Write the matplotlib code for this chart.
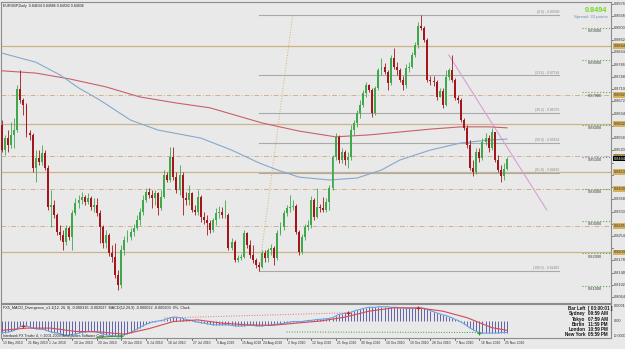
import numpy as np
import matplotlib
matplotlib.use("Agg")
import matplotlib.pyplot as plt
from matplotlib.transforms import blended_transform_factory

plt.rcParams["font.family"] = ["Liberation Sans", "DejaVu Sans"]

BG = "#e9e9e9"
GREEN = "#3fa84a"
RED = "#a3161b"
TAN = "#cdb387"

# EURGBP daily bars, 13 May - 22 Nov 2010 (open of each bar = previous close)
first_open = 0.8599
close = [
    0.8521, 0.8558, 0.8537, 0.8568, 0.8583, 0.8711, 0.8676, 0.8661, 0.8574, 0.8568,
    0.8465, 0.8496, 0.8484, 0.8512, 0.8465, 0.8344, 0.8350, 0.8319, 0.8267, 0.8257,
    0.8235, 0.8279, 0.8251, 0.8326, 0.8357, 0.8366, 0.8375, 0.8360, 0.8372, 0.8344,
    0.8350, 0.8326, 0.8282, 0.8232, 0.8257, 0.8201, 0.8189, 0.8133, 0.8102, 0.8211,
    0.8242, 0.8251, 0.8267, 0.8279, 0.8304, 0.8329, 0.8366, 0.8391, 0.8381, 0.8372,
    0.8388, 0.8341, 0.8375, 0.8444, 0.8428, 0.8499, 0.8437, 0.8397, 0.8444, 0.8372,
    0.8366, 0.8388, 0.8335, 0.8329, 0.8375, 0.8313, 0.8304, 0.8294, 0.8273, 0.8304,
    0.8326, 0.8329, 0.8319, 0.8319, 0.8217, 0.8235, 0.8180, 0.8186, 0.8189, 0.8263,
    0.8226, 0.8195, 0.8180, 0.8164, 0.8158, 0.8201, 0.8186, 0.8211, 0.8217, 0.8186,
    0.8263, 0.8282, 0.8326, 0.8341, 0.8344, 0.8347, 0.8267, 0.8204, 0.8251, 0.8282,
    0.8288, 0.8366, 0.8313, 0.8344, 0.8341, 0.8335, 0.8360, 0.8403, 0.8499, 0.8562,
    0.8490, 0.8515, 0.8490, 0.8499, 0.8583, 0.8605, 0.8636, 0.8661, 0.8698, 0.8723,
    0.8707, 0.8636, 0.8714, 0.8770, 0.8779, 0.8763, 0.8729, 0.8807, 0.8779, 0.8770,
    0.8739, 0.8723, 0.8776, 0.8779, 0.8816, 0.8847, 0.8906, 0.8900, 0.8863, 0.8739,
    0.8735, 0.8732, 0.8686, 0.8704, 0.8661, 0.8748, 0.8770, 0.8739, 0.8683, 0.8676,
    0.8614, 0.8590, 0.8537, 0.8465, 0.8453, 0.8515, 0.8496, 0.8546, 0.8558, 0.8527,
    0.8577, 0.8490, 0.8459, 0.8440, 0.84634, 0.84936,
]
high = [
    0.8614, 0.8568, 0.8583, 0.8608, 0.8621, 0.8723, 0.8770, 0.8683, 0.8667, 0.8583,
    0.8574, 0.8521, 0.8521, 0.8537, 0.8521, 0.8475, 0.8397, 0.8366, 0.8326, 0.8288,
    0.8273, 0.8288, 0.8285, 0.8335, 0.8372, 0.8381, 0.8391, 0.8381, 0.8388, 0.8378,
    0.8372, 0.8372, 0.8335, 0.8288, 0.8273, 0.8263, 0.8226, 0.8232, 0.8149, 0.8226,
    0.8254, 0.8273, 0.8279, 0.8291, 0.8319, 0.8341, 0.8381, 0.8403, 0.8403, 0.8397,
    0.8397, 0.8391, 0.8397, 0.8459, 0.8453, 0.8530, 0.8530, 0.8453, 0.8475, 0.8453,
    0.8391, 0.8412, 0.8391, 0.8350, 0.8397, 0.8381, 0.8329, 0.8319, 0.8304, 0.8310,
    0.8341, 0.8347, 0.8344, 0.8366, 0.8326, 0.8248, 0.8242, 0.8195, 0.8198, 0.8273,
    0.8267, 0.8242, 0.8226, 0.8186, 0.8173, 0.8211, 0.8211, 0.8217, 0.8229, 0.8223,
    0.8273, 0.8298, 0.8335, 0.8350, 0.8381, 0.8366, 0.8353, 0.8273, 0.8260, 0.8291,
    0.8304, 0.8378, 0.8372, 0.8403, 0.8353, 0.8375, 0.8372, 0.8412, 0.8506, 0.8574,
    0.8568, 0.8527, 0.8521, 0.8515, 0.8599, 0.8614, 0.8645, 0.8676, 0.8707, 0.8732,
    0.8726, 0.8714, 0.8720, 0.8776, 0.8807, 0.8791, 0.8770, 0.8816, 0.8838, 0.8794,
    0.8776, 0.8751, 0.8788, 0.8794, 0.8826, 0.8857, 0.8919, 0.89399, 0.8906, 0.8869,
    0.8751, 0.8751, 0.8739, 0.8714, 0.8714, 0.8770, 0.8776, 0.8816, 0.8745, 0.8692,
    0.8683, 0.8621, 0.8599, 0.8552, 0.8490, 0.8527, 0.8527, 0.8558, 0.8574, 0.8568,
    0.8590, 0.8577, 0.8506, 0.8475, 0.8481, 0.84986,
]
low = [
    0.8515, 0.8506, 0.8515, 0.8527, 0.8527, 0.8577, 0.8667, 0.8630, 0.8562, 0.8552,
    0.8453, 0.8422, 0.8475, 0.8475, 0.8459, 0.8335, 0.8282, 0.8310, 0.8257, 0.8242,
    0.8211, 0.8226, 0.8242, 0.8211, 0.8319, 0.8341, 0.8353, 0.8350, 0.8353, 0.8335,
    0.8329, 0.8316, 0.8232, 0.8217, 0.8217, 0.8192, 0.8173, 0.8124, 0.8086, 0.8093,
    0.8195, 0.8235, 0.8242, 0.8254, 0.8273, 0.8288, 0.8319, 0.8360, 0.8372, 0.8341,
    0.8350, 0.8319, 0.8335, 0.8372, 0.8422, 0.8422, 0.8428, 0.8388, 0.8381, 0.8319,
    0.8350, 0.8350, 0.8329, 0.8319, 0.8319, 0.8298, 0.8291, 0.8257, 0.8263, 0.8267,
    0.8288, 0.8310, 0.8310, 0.8310, 0.8211, 0.8211, 0.8173, 0.8173, 0.8180, 0.8186,
    0.8217, 0.8186, 0.8170, 0.8155, 0.81469, 0.8155, 0.8173, 0.8173, 0.8195, 0.8164,
    0.8180, 0.8257, 0.8273, 0.8316, 0.8329, 0.8335, 0.8260, 0.8195, 0.8198, 0.8242,
    0.8273, 0.8279, 0.8304, 0.8310, 0.8329, 0.8329, 0.8329, 0.8335, 0.8397, 0.8490,
    0.8481, 0.8481, 0.8475, 0.8465, 0.8490, 0.8568, 0.8593, 0.8621, 0.8655, 0.8686,
    0.8701, 0.8624, 0.8630, 0.8707, 0.8754, 0.8757, 0.8707, 0.8723, 0.8773, 0.8754,
    0.8732, 0.8707, 0.8714, 0.8763, 0.8776, 0.8810, 0.8838, 0.8894, 0.8857, 0.8732,
    0.8723, 0.8720, 0.8676, 0.8686, 0.8652, 0.8658, 0.8739, 0.8732, 0.8676, 0.8667,
    0.8608, 0.8583, 0.8527, 0.8459, 0.8440, 0.8447, 0.8484, 0.8490, 0.8537, 0.8515,
    0.8521, 0.8484, 0.8453, 0.8422, 0.8428, 0.84592,
]

# moving averages read at a few bars
ma_red_bar = [0, 11, 22, 34, 45, 57, 68, 85, 97, 109, 120, 130, 140, 150, 159, 165]
ma_red = [0.8767, 0.8760, 0.8742, 0.8717, 0.8686, 0.8667, 0.8652, 0.8605, 0.8580,
          0.8562, 0.8568, 0.8577, 0.8586, 0.8593, 0.8593, 0.8590]
ma_blue_bar = [0, 7, 11, 19, 25, 32, 42, 51, 65, 75, 84, 90, 97, 107, 116, 124,
               130, 140, 150, 159, 165]
ma_blue = [0.8822, 0.8804, 0.8794, 0.8754, 0.8714, 0.8676, 0.8614, 0.8583, 0.8558,
           0.8521, 0.8481, 0.8459, 0.8437, 0.8428, 0.8434, 0.8459, 0.8490, 0.8521,
           0.8543, 0.8552, 0.8555]

# drawn objects
solid_levels = [0.8844, 0.8602, 0.8453, 0.8204]
dashdot_levels = [0.8692, 0.8502, 0.8400, 0.8285]
round_levels = [0.89, 0.88, 0.87, 0.86, 0.85, 0.84, 0.83, 0.82, 0.81]
fib_bars = [84, 95]
fib_prices = [0.81469, 0.89399]
fib_ratios = [0.0, 23.6, 38.2, 50.0, 61.8, 100.0]
fib_end = 182
trend_bars = [146, 178]
trend_prices = [0.8816, 0.8335]

axis_ticks = [0.8976, 0.8938, 0.8900, 0.8862, 0.8824, 0.8786, 0.8748, 0.8710,
              0.8672, 0.8634, 0.8596, 0.8558, 0.8520, 0.8482, 0.8444, 0.8406,
              0.8368, 0.8330, 0.8292, 0.8254, 0.8216, 0.8178, 0.8140, 0.8102,
              0.8064]

# MACD main per bar, in units of 1e-4
macd_e4 = [
    -21, -21, -20, -19, -17, -14, -10, -9, -9, -11,
    -13, -14, -15, -15, -16, -18, -20, -21, -22, -23,
    -25, -26, -26, -25, -24, -22, -21, -20, -19, -19,
    -19, -20, -22, -24, -25, -26, -27, -28, -29, -27,
    -25, -23, -21, -18, -15, -12, -9, -6, -4, -2,
    -1, 0, 1, 2, 4, 6, 7, 7, 6, 5,
    3, 2, 1, -1, -2, -3, -4, -5, -6, -7,
    -7, -7, -7, -7, -7, -8, -9, -9, -9, -9,
    -8, -8, -8, -9, -9, -9, -8, -8, -7, -6,
    -6, -5, -4, -3, -2, -1, -1, -1, -1, 0,
    1, 1, 2, 3, 3, 4, 4, 5, 6, 9,
    12, 13, 14, 15, 16, 18, 20, 21, 23, 24,
    25, 25, 25, 26, 26, 26, 26, 25, 25, 25,
    24, 24, 23, 23, 23, 23, 24, 24, 23, 21,
    19, 17, 15, 13, 11, 10, 8, 6, 3, 1,
    -2, -5, -9, -13, -16, -19, -21, -22, -22, -22,
    -22, -22, -22, -21, -21, -21,
]
signal_bar = [0, 8, 16, 24, 32, 40, 48, 56, 64, 72, 80, 88, 96, 104, 112, 120,
              128, 136, 144, 152, 160, 165]
signal_e4 = [-17, -13, -13, -19, -20, -24, -14, -1, 2, -4, -7, -8, -4, 0, 7, 18,
             24, 24, 18, 6, -12, -17]
sell_bar = [7, 113, 136]
buy_bar = [39, 156]

date_bars = [0, 8, 15, 23, 31, 39, 47, 54, 62, 70, 78, 85, 93, 101, 109, 117,
             125, 133, 140, 148, 156, 164]
date_labels = ["13 May 2010", "21 May 2010", "1 Jun 2010", "10 Jun 2010",
               "20 Jun 2010", "29 Jun 2010", "8 Jul 2010", "18 Jul 2010",
               "27 Jul 2010", "5 Aug 2010", "15 Aug 2010", "24 Aug 2010",
               "2 Sep 2010", "12 Sep 2010", "21 Sep 2010", "30 Sep 2010",
               "10 Oct 2010", "19 Oct 2010", "28 Oct 2010", "7 Nov 2010",
               "16 Nov 2010", "25 Nov 2010"]

W, H = 625, 349
fig = plt.figure(figsize=(W / 100, H / 100), dpi=100, facecolor=BG)
ax = fig.add_axes([1 / W, 46 / H, 610 / W, 301 / H], facecolor=BG)
mx = fig.add_axes([1 / W, 11 / H, 610 / W, 34 / H], facecolor=BG)
XMIN, XMAX = -0.33, 199.0
for a in (ax, mx):
    a.set_xlim(XMIN, XMAX)
    a.set_xticks([])
    a.set_yticks([])
    for s in a.spines.values():
        s.set_color("#8c8c8c")
        s.set_linewidth(0.8)
ax.set_ylim(0.8046, 0.89807)
mx.set_ylim(-0.0031, 0.0031)

# candles
x = np.arange(len(close))
c = np.array(close)
o = np.array([first_open] + close[:-1])
up = c >= o
cols = np.where(up, GREEN, RED)
ax.vlines(x, low, high, colors=cols, lw=0.6, zorder=4)
body = np.maximum(np.abs(c - o), 0.00006)
ax.bar(x, body, bottom=np.minimum(c, o), width=0.64, color=cols, lw=0, zorder=5)

# moving averages
ax.plot(ma_red_bar, ma_red, color="#c9606e", lw=0.8, zorder=3)
ax.plot(ma_blue_bar, ma_blue, color="#86a9cc", lw=0.8, zorder=3)

# horizontal levels
for p in solid_levels:
    ax.axhline(p, color=TAN, lw=0.9, zorder=2)
for p in dashdot_levels:
    ax.axhline(p, color=TAN, lw=0.7, dashes=(5, 2, 1, 2), zorder=2)
for p in round_levels:
    col = "#7a7acc" if p == 0.85 else "#5da84f"
    ax.plot([189.5, XMAX], [p, p], color=col, lw=0.8, ls=":", zorder=2)
    ax.text(191.5, p - 0.0004, f"{p:.5f}", fontsize=2.9, color="#404040",
            va="top", ha="left", zorder=6)

# fibonacci retracement
lo, hi = fib_prices
ax.plot(fib_bars, [lo, hi], color="#d3b27c", lw=0.7, ls=":", zorder=2)
for r in fib_ratios:
    p = hi - r / 100 * (hi - lo)
    ax.plot([fib_bars[0], fib_end], [p, p], color="#a9a9a9", lw=0.8, zorder=2)
    ax.text(fib_end, p + 0.00025, f"({r:.1f}) - {p:.5f}", fontsize=2.4,
            color="#8a8a8a", ha="right", va="bottom", zorder=6)

# trendline
ax.plot(trend_bars, trend_prices, color="#d9a0d2", lw=0.8, zorder=2)

# right price scale
tr = blended_transform_factory(ax.transAxes, ax.transData)
boxed = solid_levels + dashdot_levels + [close[-1]]
for p in axis_ticks:
    ax.plot([1.0, 1.004], [p, p], color="#505050", lw=0.5, transform=tr, clip_on=False)
    if min(abs(p - b) for b in boxed) < 0.0013:
        continue
    ax.text(1.0049, p, f"{p:.4f}", fontsize=2.8, color="#303030", va="center",
            ha="left", transform=tr, clip_on=False)
for p in solid_levels + dashdot_levels:
    ax.text(1.0049, p, f"{p:.4f}", fontsize=2.8, color="#303030", va="center",
            ha="left", transform=tr, clip_on=False,
            bbox=dict(boxstyle="square,pad=0.15", fc="#d6b25c", ec="none"))
ax.text(1.0049, close[-1], f"{close[-1]:.4f}", fontsize=2.8, color="white",
        va="center", ha="left", transform=tr, clip_on=False,
        bbox=dict(boxstyle="square,pad=0.15", fc="black", ec="none"))

# texts in the main chart
ax.text(0.003, 0.995, "EURGBP,Daily  0.84634 0.84986 0.84592 0.84936",
        transform=ax.transAxes, fontsize=2.6, color="#202020", va="top", ha="left")
ax.text(0.993, 0.982, f"{close[-1]:.4f}", transform=ax.transAxes, fontsize=5.2,
        color="#6ddc1f", fontweight="bold", va="top", ha="right")
ax.text(0.995, 0.958, "Spread: 33 points", transform=ax.transAxes, fontsize=3.2,
        color="#6d8fb4", va="top", ha="right")

# MACD panel
macd = np.array(macd_e4) * 1e-4
sig = np.array(signal_e4) * 1e-4
mx.vlines(x, 0, macd, colors="#4c4c9c", lw=0.6, zorder=2)
mx.plot(x, macd, color="#6aa2e0", lw=0.8, zorder=3)
mx.plot(signal_bar, sig, color="#d24a58", lw=0.8, zorder=3)
mx.scatter(sell_bar, macd[sell_bar], marker="+", s=6, color="#d02020", lw=0.8, zorder=4)
mx.scatter(buy_bar, macd[buy_bar], marker="+", s=6, color="#20a020", lw=0.8, zorder=4)
mx.plot([53, 113], [0.00055, macd[113]], color="#e07070", lw=0.7, ls=":", zorder=3)
mx.plot([31, 39], [-0.0030, macd[39]], color="#3a9a3a", lw=0.8, zorder=3)
mx.plot([93, 156], [-0.0020, macd[156]], color="#3a9a3a", lw=0.7, ls=":", zorder=3)

mx.text(0.003, 0.88, "FX5_MACD_Divergence_v1.1(12, 26, 9) -0.000316 -0.002027  "
        "MACD(12,26,9) -0.000032 -0.000203  0%, Clock", transform=mx.transAxes,
        fontsize=2.7, color="#202020", va="center", ha="left")
mx.text(0.003, 0.07, "Interbank FX Trader 4, \u00a9 2001-2009 MetaQuotes Software Corp.",
        transform=mx.transAxes, fontsize=2.5, color="#202020", va="center", ha="left")

clock = [("Bar Left", "[ 03:00:01 ]"), ("Sydney", "09:59 AM"), ("Tokyo", "07:59 AM"),
         ("Berlin", "11:59 PM"), ("London", "10:59 PM"), ("New York", "05:59 PM")]
for k, (name, t) in enumerate(clock):
    yy = 0.86 - k * 0.153
    mx.text(0.958, yy, name, transform=mx.transAxes, fontsize=3.3, fontweight="bold",
            color="#151515", va="center", ha="right")
    mx.text(0.962, yy, t, transform=mx.transAxes, fontsize=3.3, fontweight="bold",
            color="#151515", va="center", ha="left")

mtr = blended_transform_factory(mx.transAxes, mx.transData)
for v, s in [(0.0027, "0.0031"), (0.0, "0.00"), (-0.0028, "-0.0031")]:
    mx.text(1.0049, v, s, fontsize=2.8, color="#303030", va="center", ha="left",
            transform=mtr, clip_on=False)

# date scale
dtr = blended_transform_factory(mx.transData, fig.transFigure)
for b, lab in zip(date_bars, date_labels):
    mx.plot([b, b], [11 / H, 9 / H], color="#404040", lw=0.5, transform=dtr, clip_on=False)
    mx.text(b + 0.4, 6 / H, lab, fontsize=2.4, color="#303030", va="center",
            ha="left", transform=dtr, clip_on=False)

fig.savefig("out.png", dpi=100, facecolor=BG)
